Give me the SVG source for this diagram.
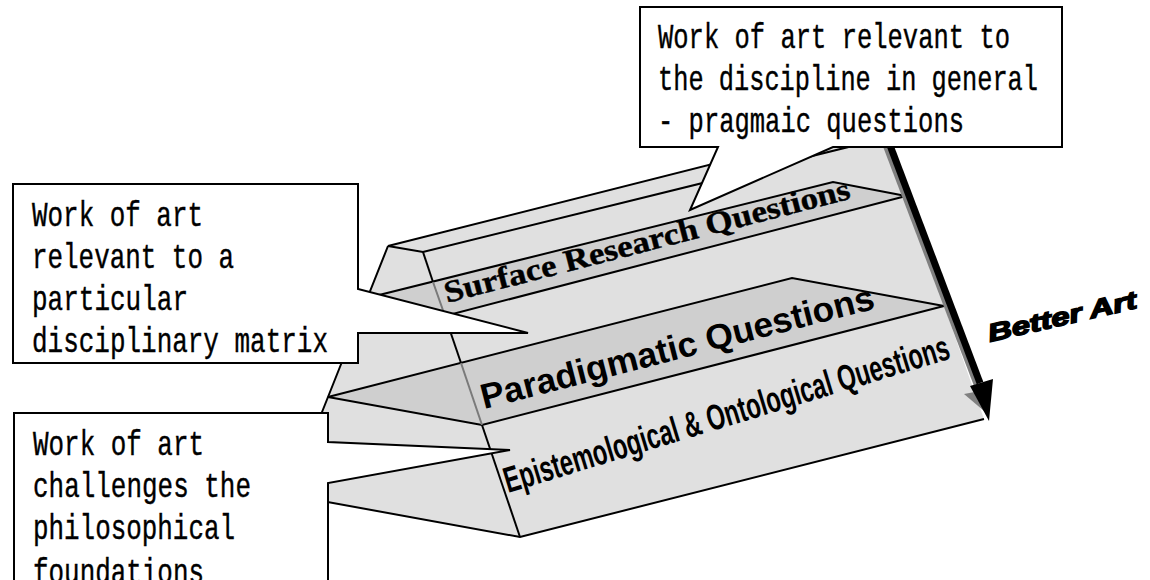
<svg xmlns="http://www.w3.org/2000/svg" width="1150" height="580" viewBox="0 0 1150 580">
<style>
.face{fill:#e0e0e0;stroke:none}
.band{fill:#cfcfcf;stroke:none}
.edge{fill:none;stroke:#000;stroke-width:2;stroke-linejoin:miter}
.hid{fill:none;stroke:#7a7a7a;stroke-width:2}
.callout{fill:#fff;stroke:#000;stroke-width:2;stroke-linejoin:miter}
.ct{font-family:"Liberation Mono","Courier New",monospace;font-size:35px;fill:#000;stroke:#000;stroke-width:0.4}
.lbl{fill:#000}
</style>
<rect width="1150" height="580" fill="#fff"/>

<g id="prism">
  <polygon class="face" points="388,246 423,252 885,138 855,128"/>
  <polygon class="face" points="423,252 885,138 984,419 520,537"/>
  <polygon class="face" points="388,246 423,252 520,537 289,495 328,397"/>
  <polygon class="band" points="367,298 833,182 906,196 445,316"/>
  <polygon class="band" points="328,397 792,278 944,306 482,425"/>
  <polyline class="edge" points="855,128 388,246 423,252 885,138"/>
  <polyline class="edge" points="388,246 328,397 289,495 520,537 984,419"/>
  <polygon class="edge" points="367,298 833,182 906,196 445,316"/>
  <polygon class="edge" points="328,397 792,278 944,306 482,425"/>
  <line class="edge" x1="423" y1="252" x2="433" y2="282"/>
  <line class="hid" x1="433" y1="282" x2="445" y2="316"/>
  <line class="edge" x1="445" y1="316" x2="461" y2="363"/>
  <line class="hid" x1="461" y1="363" x2="482" y2="425"/>
  <line class="edge" x1="482" y1="425" x2="520" y2="537"/>
  <text class="lbl" transform="translate(447,303) rotate(-14.5)" font-family="'Liberation Serif',serif" font-weight="bold" font-size="31" stroke="#000" stroke-width="0.4" textLength="418" lengthAdjust="spacingAndGlyphs">Surface Research Questions</text>
  <text class="lbl" transform="translate(484,409) rotate(-14.4)" font-family="'Liberation Sans',Arial,sans-serif" font-weight="bold" font-size="35" textLength="405" lengthAdjust="spacingAndGlyphs">Paradigmatic Questions</text>
  <text class="lbl" transform="translate(508,493) rotate(-16.9)" font-family="'Liberation Sans Narrow','Liberation Sans',sans-serif" font-weight="bold" font-size="36" textLength="464" lengthAdjust="spacingAndGlyphs">Epistemological &amp; Ontological Questions</text>
</g>

<g id="connectors">
  <g id="arrow-shadow" fill="#808080" stroke="none">
    <line x1="885" y1="142" x2="977" y2="384" stroke="#808080" stroke-width="7"/>
    <polygon points="964,394 980,391 984,411"/>
  </g>
  <g id="arrow">
    <line x1="888" y1="140" x2="980" y2="383" stroke="#000" stroke-width="7"/>
    <polygon points="970,386 993,379 989,421" fill="#000"/>
  </g>
  <text id="better-art" transform="translate(990,342) rotate(-13)" font-family="'Liberation Sans',Arial,sans-serif" font-weight="bold" font-style="italic" font-size="25" stroke="#000" stroke-width="1.5" fill="#000" textLength="152" lengthAdjust="spacingAndGlyphs">Better Art</text>
</g>

<g id="callout-discipline">
  <path class="callout" d="M640,7 H1062 V147 H833 L690,210 L718,147 H640 Z"/>
  <text class="ct" x="658" y="48" textLength="352" lengthAdjust="spacingAndGlyphs">Work of art relevant to</text>
  <text class="ct" x="658" y="90" textLength="380" lengthAdjust="spacingAndGlyphs">the discipline in general</text>
  <text class="ct" x="658" y="132" textLength="306" lengthAdjust="spacingAndGlyphs">- pragmaic questions</text>
</g>

<g id="callout-matrix">
  <path class="callout" d="M13,184 H358 V289 L528,333 H358 V363 H13 Z"/>
  <text class="ct" x="32" y="226" textLength="171" lengthAdjust="spacingAndGlyphs">Work of art</text>
  <text class="ct" x="32" y="268" textLength="202" lengthAdjust="spacingAndGlyphs">relevant to a</text>
  <text class="ct" x="32" y="310" textLength="156" lengthAdjust="spacingAndGlyphs">particular</text>
  <text class="ct" x="32" y="352" textLength="296" lengthAdjust="spacingAndGlyphs">disciplinary matrix</text>
</g>

<g id="callout-foundations">
  <path class="callout" d="M14,413 H328 V442 L510,450 L328,483 V600 H14 Z"/>
  <text class="ct" x="33" y="455" textLength="171" lengthAdjust="spacingAndGlyphs">Work of art</text>
  <text class="ct" x="33" y="497" textLength="218" lengthAdjust="spacingAndGlyphs">challenges the</text>
  <text class="ct" x="33" y="539" textLength="202" lengthAdjust="spacingAndGlyphs">philosophical</text>
  <text class="ct" x="33" y="583" textLength="171" lengthAdjust="spacingAndGlyphs">foundations</text>
</g>
</svg>
